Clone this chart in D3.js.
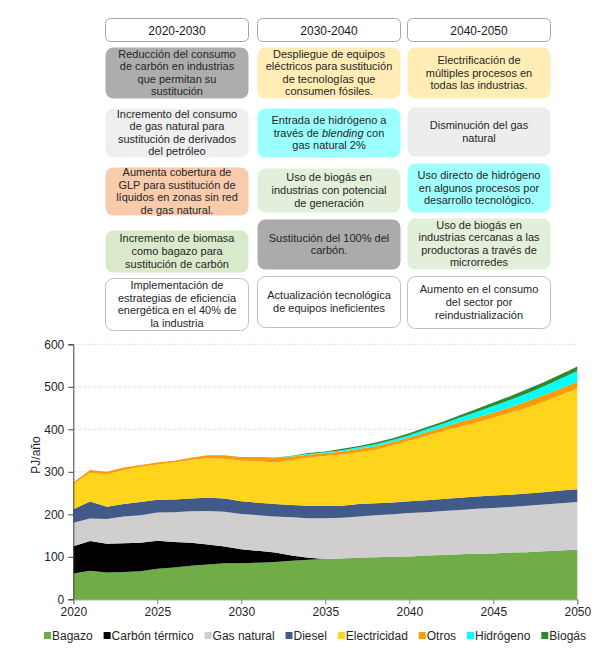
<!DOCTYPE html>
<html>
<head>
<meta charset="utf-8">
<script src="https://cdn.jsdelivr.net/npm/d3@7"></script>
<style>
  body { margin: 0; background: #fff; }
  text { font-family: "Liberation Sans", Arial, sans-serif; }
</style>
</head>
<body>
<svg id="chart" width="603" height="648"></svg>
<script>
// ---- data (PJ/año) ----
const years = [2020, 2021, 2022, 2023, 2024, 2025, 2026, 2027, 2028, 2029, 2030,
               2031, 2032, 2033, 2034, 2035, 2036, 2037, 2038, 2039, 2040,
               2041, 2042, 2043, 2044, 2045, 2046, 2047, 2048, 2049, 2050];

const bagazo       = [61, 67, 63, 64, 66, 72, 75, 79, 82, 85, 85, 86, 88, 91, 93, 95, 96, 97, 99, 100, 101, 103, 104, 106, 107, 108, 110, 111, 113, 115, 117];
const carbon       = [64, 70, 68, 68, 67, 66, 60, 54, 47, 39, 33, 28, 22, 12, 5, 0, 0, 1, 0, 0, 0, 0, 0, 0, 0, 0, 0, 0, 0, 0, 0];
const gasNatural   = [55, 53, 58, 63, 65, 66, 70, 74, 79, 82, 83, 84, 85, 90, 93, 96, 96, 97, 99, 100, 102, 102, 104, 104, 106, 107, 107, 109, 110, 111, 112];
const diesel       = [32, 40, 29, 29, 31, 30, 30, 30, 31, 31, 30, 29, 29, 29, 29, 29, 28, 29, 28, 28, 28, 28, 28, 29, 29, 29, 29, 29, 29, 30, 30];
const electricidad = [59, 68, 76, 80, 83, 83, 87, 91, 93, 94, 95, 98, 98, 106, 113, 117, 121, 122, 126, 134, 142, 151, 160, 167, 174, 183, 193, 202, 213, 224, 237];
const otros        = [4, 6, 6, 6, 4, 5, 4, 5, 7, 8, 7, 8, 10, 8, 7, 7, 7, 8, 8, 8, 8, 9, 9, 12, 12, 12, 13, 15, 16, 16, 16];
const hidrogeno    = [0, 0, 0, 0, 0, 0, 0, 0, 0, 0, 0, 0, 0, 1, 2, 2, 3, 4, 5, 5, 5, 7, 8, 9, 13, 16, 17, 18, 20, 23, 25];
const biogas       = [0, 0, 0, 0, 0, 0, 0, 0, 0, 0, 1, 1, 1, 1, 2, 2, 3, 3, 4, 4, 5, 5, 5, 6, 7, 8, 9, 10, 10, 10, 11];

const seriesNames  = ["Bagazo", "Carbón térmico", "Gas natural", "Diesel", "Electricidad", "Otros", "Hidrógeno", "Biogás"];
const seriesValues = [bagazo, carbon, gasNatural, diesel, electricidad, otros, hidrogeno, biogas];
const seriesColors = ["#70AD47", "#000000", "#D0CECE", "#415B88", "#FED41D", "#FF9B05", "#00FFFF", "#2F8A2F"];

const yTicks = [0, 100, 200, 300, 400, 500, 600];
const xTicks = [2020, 2025, 2030, 2035, 2040, 2045, 2050];
const yLabel = "PJ/año";

// ---- measures table above the chart ----
const periods = ["2020-2030", "2030-2040", "2040-2050"];

// *word* = italic
const measures2020 = [
  ["Reducción del consumo", "de carbón en industrias", "que permitan su", "sustitución"],
  ["Incremento del consumo", "de gas natural para", "sustitución de derivados", "del petróleo"],
  ["Aumenta cobertura de", "GLP para sustitución de", "líquidos en zonas sin red", "de gas natural."],
  ["Incremento de biomasa", "como bagazo para", "sustitución de carbón"],
  ["Implementación de", "estrategias de eficiencia", "energética en el 40% de", "la industria"]
];
const measures2030 = [
  ["Despliegue de equipos", "eléctricos para sustitución", "de tecnologías que", "consumen fósiles."],
  ["Entrada de hidrógeno a", "través de *blending* con", "gas natural 2%"],
  ["Uso de biogás en", "industrias con potencial", "de generación"],
  ["Sustitución del 100% del", "carbón."],
  ["Actualización tecnológica", "de equipos ineficientes"]
];
const measures2040 = [
  ["Electrificación de", "múltiples procesos en", "todas las industrias."],
  ["Disminución del gas", "natural"],
  ["Uso directo de hidrógeno", "en algunos procesos por", "desarrollo tecnológico."],
  ["Uso de biogás en", "industrias cercanas a las", "productoras a través de", "microrredes"],
  ["Aumento en el consumo", "del sector por", "reindustrialización"]
];
const fills2020 = ["#ADADAD", "#EFEFEF", "#F8CBAD", "#D9EACB", "#FFFFFF"];
const fills2030 = ["#FFEDB5", "#9CFFFF", "#E2EFDA", "#ABABAB", "#FFFFFF"];
const fills2040 = ["#FFEDB5", "#EDEDED", "#A0FFFF", "#E2EFDA", "#FFFFFF"];

const svg = d3.select("#chart");

// ---- draw the measures table ----
const colX = [105, 257, 407];
const colW = 143;
const rowBoxes = [
  // [top, height] per row, col1 row 4 sits a bit lower in the reference
  [[47, 51], [47, 51], [47, 51]],
  [[108, 49], [108, 49], [107, 49]],
  [[167, 48], [168, 44], [163, 49]],
  [[230, 42], [219, 50], [218, 51]],
  [[278, 52], [276, 51], [276, 52]]
];
const columns = [
  {measures: measures2020, fills: fills2020},
  {measures: measures2030, fills: fills2030},
  {measures: measures2040, fills: fills2040}
];

const table = svg.append("g").attr("id", "table");

periods.forEach(function(p, c) {
  table.append("rect")
    .attr("x", colX[c] + 0.5).attr("y", 18.5)
    .attr("width", colW).attr("height", 23)
    .attr("rx", 5)
    .attr("fill", "#fff")
    .attr("stroke", "#A6A6A6");
  table.append("text")
    .attr("x", colX[c] + colW / 2 + 0.5).attr("y", 34.5)
    .attr("text-anchor", "middle")
    .attr("font-size", 12)
    .attr("fill", "#1a1a1a")
    .text(p);
});

const lineH = 12.6;
columns.forEach(function(col, c) {
  col.measures.forEach(function(lines, r) {
    const [top, h] = rowBoxes[r][c];
    const white = col.fills[r] === "#FFFFFF";
    table.append("rect")
      .attr("x", colX[c] + 0.5).attr("y", top + 0.5)
      .attr("width", colW).attr("height", h)
      .attr("rx", 8)
      .attr("fill", col.fills[r])
      .attr("stroke", white ? "#BFBFBF" : "none");

    const first = top + h / 2 - (lines.length - 1) * lineH / 2 + 4;
    lines.forEach(function(line, i) {
      const t = table.append("text")
        .attr("x", colX[c] + colW / 2 + 0.5)
        .attr("y", first + i * lineH)
        .attr("text-anchor", "middle")
        .attr("font-size", 11)
        .attr("fill", "#262626");
      // split on *..* for italic pieces
      line.split("*").forEach(function(part, k) {
        if (part === "") return;
        t.append("tspan")
          .attr("font-style", k % 2 === 1 ? "italic" : "normal")
          .text(part);
      });
    });
  });
});

// ---- stacked area chart ----
const plot = {left: 73.3, right: 577.3, top: 344.3, bottom: 599.3};

const x = d3.scaleLinear()
  .domain([2020, 2050])
  .range([plot.left, plot.right]);

const y = d3.scaleLinear()
  .domain([0, 600])
  .range([plot.bottom, plot.top]);

const rows = years.map(function(yr, i) {
  const row = {year: yr};
  seriesNames.forEach((name, s) => row[name] = seriesValues[s][i]);
  return row;
});

const stacked = d3.stack().keys(seriesNames)(rows);

// dashed gridlines
svg.append("g")
  .selectAll("line.grid")
  .data(yTicks.filter(d => d > 0))
  .enter()
  .append("line")
  .attr("class", "grid")
  .attr("x1", plot.left).attr("x2", plot.right)
  .attr("y1", d => y(d)).attr("y2", d => y(d))
  .attr("stroke", "#D9D9D9")
  .attr("stroke-dasharray", "3,2")
  .attr("stroke-width", 0.8);

const area = d3.area()
  .x(d => x(d.data.year))
  .y0(d => y(d[0]))
  .y1(d => y(d[1]));

svg.append("g")
  .selectAll("path.layer")
  .data(stacked)
  .enter()
  .append("path")
  .attr("class", "layer")
  .attr("d", area)
  .attr("fill", (d, i) => seriesColors[i]);

// y axis
const yAxis = svg.append("g")
  .attr("transform", `translate(${plot.left},0)`)
  .call(d3.axisLeft(y).tickValues(yTicks).tickSize(5).tickPadding(4));
yAxis.select(".domain").attr("stroke", "#404040");
yAxis.selectAll(".tick line").attr("stroke", "#404040");
yAxis.selectAll(".tick text")
  .attr("font-size", 12)
  .attr("fill", "#262626")
  .attr("font-family", "Liberation Sans, Arial, sans-serif");

// x axis
const xAxis = svg.append("g")
  .attr("transform", `translate(0,${plot.bottom})`)
  .call(d3.axisBottom(x).tickValues(xTicks).tickFormat(d3.format("d")).tickSize(5).tickPadding(3));
xAxis.select(".domain").attr("stroke", "#808080");
xAxis.selectAll(".tick line").attr("stroke", "#808080");
xAxis.selectAll(".tick text")
  .attr("font-size", 12)
  .attr("fill", "#262626")
  .attr("font-family", "Liberation Sans, Arial, sans-serif");

// y label
svg.append("text")
  .attr("transform", "translate(40,455) rotate(-90)")
  .attr("text-anchor", "middle")
  .attr("font-size", 12)
  .attr("fill", "#262626")
  .text(yLabel);

// ---- legend ----
const legend = svg.append("g").attr("id", "legend");
const legY = 636;
const items = seriesNames.map(function(name, i) {
  const g = legend.append("g");
  g.append("rect")
    .attr("x", 0).attr("y", legY - 4)
    .attr("width", 7).attr("height", 7)
    .attr("fill", seriesColors[i]);
  const t = g.append("text")
    .attr("x", 8).attr("y", legY + 4)
    .attr("font-size", 12)
    .attr("fill", "#262626")
    .text(name);
  return {g: g, w: 8 + t.node().getComputedTextLength()};
});
const legStart = 44, legEnd = 586;
const totalW = d3.sum(items, d => d.w);
const gap = (legEnd - legStart - totalW) / (items.length - 1);
let cx = legStart;
items.forEach(function(it) {
  it.g.attr("transform", `translate(${cx},0)`);
  cx += it.w + gap;
});
</script>
</body>
</html>
